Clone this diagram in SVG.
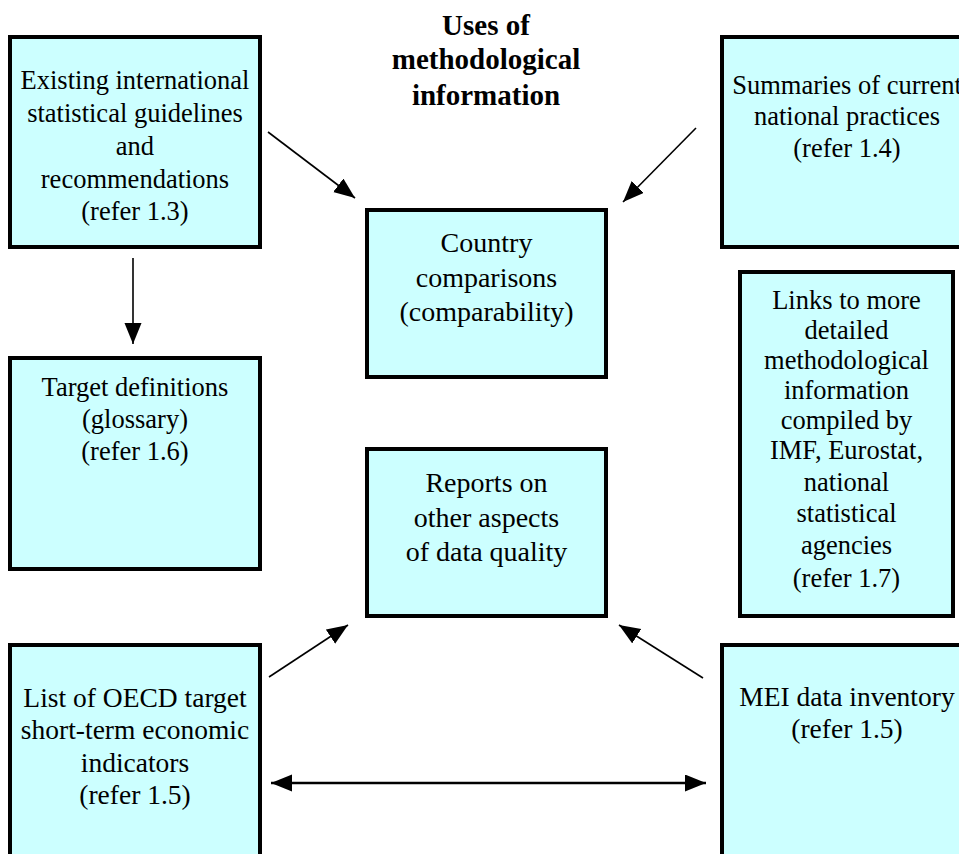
<svg xmlns="http://www.w3.org/2000/svg" width="959" height="854" viewBox="0 0 959 854">
<style>
.box{fill:#CCFFFF;stroke:#000;stroke-width:4}
text{font-family:'Liberation Serif','Times New Roman',serif;fill:#000;text-anchor:middle}
.t{font-size:26.5px}
.tb{font-size:27.5px}
.tc{font-size:28px}
.title{font-size:29px;font-weight:bold}
.ln{stroke:#000;stroke-width:1.6;fill:none}
</style>
<defs>
<marker id="ah" markerUnits="userSpaceOnUse" markerWidth="24" markerHeight="18" refX="21" refY="8.5" orient="auto-start-reverse">
<path d="M0,0 L21,8.5 L0,17 z" fill="#000"/>
</marker>
</defs>
<rect width="959" height="854" fill="#fff"/>
<g id="title">
<text class="title" x="486" y="35">Uses of</text>
<text class="title" x="486" y="69">methodological</text>
<text class="title" x="486" y="105">information</text>
</g>
<g id="guidelines">
<rect class="box" x="10" y="37" width="250" height="210"/>
<text class="t" x="135" y="89">Existing international</text>
<text class="t" x="135" y="122">statistical guidelines</text>
<text class="t" x="135" y="155">and</text>
<text class="t" x="135" y="188">recommendations</text>
<text class="t" x="135" y="220">(refer 1.3)</text>
</g>
<g id="summaries">
<rect class="box" x="722" y="37" width="250" height="210"/>
<text class="t" x="847" y="94">Summaries of current</text>
<text class="t" x="847" y="125">national practices</text>
<text class="t" x="847" y="157">(refer 1.4)</text>
</g>
<g id="country">
<rect class="box" x="367" y="210" width="239" height="167"/>
<text class="tc" x="486.5" y="252">Country</text>
<text class="tc" x="486.5" y="287">comparisons</text>
<text class="tc" x="486.5" y="321">(comparability)</text>
</g>
<g id="target">
<rect class="box" x="10" y="358" width="250" height="211"/>
<text class="t" x="135" y="396">Target definitions</text>
<text class="t" x="135" y="428">(glossary)</text>
<text class="t" x="135" y="460">(refer 1.6)</text>
</g>
<g id="links">
<rect class="box" x="740" y="272" width="213" height="344"/>
<text class="t" x="846.5" y="309">Links to more</text>
<text class="t" x="846.5" y="339">detailed</text>
<text class="t" x="846.5" y="369">methodological</text>
<text class="t" x="846.5" y="399">information</text>
<text class="t" x="846.5" y="429">compiled by</text>
<text class="t" x="846.5" y="459">IMF, Eurostat,</text>
<text class="t" x="846.5" y="491">national</text>
<text class="t" x="846.5" y="522">statistical</text>
<text class="t" x="846.5" y="554">agencies</text>
<text class="t" x="846.5" y="587">(refer 1.7)</text>
</g>
<g id="reports">
<rect class="box" x="367" y="449" width="239" height="167"/>
<text class="tc" x="486.5" y="492">Reports on</text>
<text class="tc" x="486.5" y="527">other aspects</text>
<text class="tc" x="486.5" y="561">of data quality</text>
</g>
<g id="oecdlist">
<rect class="box" x="10" y="645" width="250" height="230"/>
<text class="tb" x="135" y="707">List of OECD target</text>
<text class="tb" x="135" y="739">short-term economic</text>
<text class="tb" x="135" y="772">indicators</text>
<text class="tb" x="135" y="804">(refer 1.5)</text>
</g>
<g id="mei">
<rect class="box" x="722" y="645" width="250" height="230"/>
<text class="tb" x="847" y="706">MEI data inventory</text>
<text class="tb" x="847" y="738">(refer 1.5)</text>
</g>
<g id="connectors">
<line class="ln" x1="268" y1="132" x2="355" y2="198" marker-end="url(#ah)"/>
<line class="ln" x1="696" y1="128" x2="623" y2="202" marker-end="url(#ah)"/>
<line class="ln" x1="133" y1="258" x2="133" y2="344" marker-end="url(#ah)"/>
<line class="ln" x1="269" y1="677" x2="348" y2="625" marker-end="url(#ah)"/>
<line class="ln" x1="703" y1="678" x2="619" y2="625" marker-end="url(#ah)"/>
<line class="ln" x1="271" y1="783" x2="706" y2="783" style="stroke-width:2.5" marker-start="url(#ah)" marker-end="url(#ah)"/>
</g>
</svg>
